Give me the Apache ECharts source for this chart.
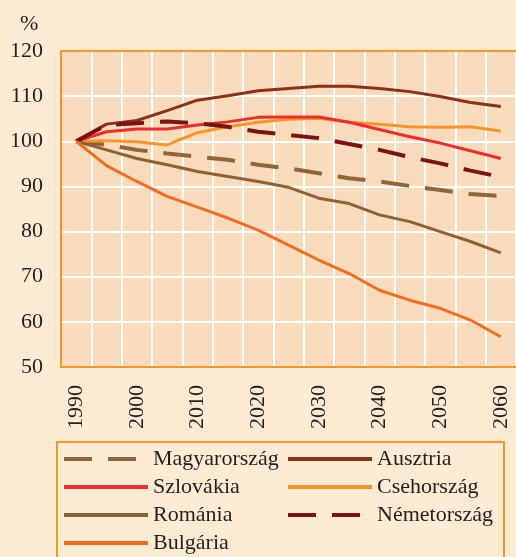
<!DOCTYPE html>
<html>
<head>
<meta charset="utf-8">
<script src="https://cdn.jsdelivr.net/npm/echarts@6/dist/echarts.min.js"></script>
<style>
  html, body { margin: 0; padding: 0; background: #fdebd4; }
  #chart { width: 516px; height: 557px; }
</style>
</head>
<body>
<div id="chart"></div>
<script>
// evek (5 eves lepes)
var years = ['1990','1995','2000','2005','2010','2015','2020','2025','2030','2035','2040','2045','2050','2055','2060'];
var yTicks = [50, 60, 70, 80, 90, 100, 110, 120];

var magyarorszag = [100, 99.2, 98.1, 97.3, 96.6, 95.9, 94.8, 94.0, 92.9, 91.8, 91.1, 90.1, 89.2, 88.3, 87.9];
var ausztria     = [100, 103.8, 104.6, 106.8, 109.1, 110.1, 111.2, 111.7, 112.2, 112.2, 111.7, 111.0, 109.9, 108.6, 107.7];
var szlovakia    = [100, 102.1, 102.7, 102.7, 103.6, 104.3, 105.3, 105.4, 105.4, 104.2, 102.6, 101.0, 99.6, 97.9, 96.2];
var csehorszag   = [100, 100.1, 99.9, 99.2, 101.9, 103.2, 104.2, 104.9, 105.1, 104.2, 103.8, 103.2, 103.1, 103.2, 102.3];
var romania      = [100, 98.1, 96.2, 94.8, 93.3, 92.2, 91.1, 89.8, 87.4, 86.2, 83.7, 82.2, 80.0, 77.8, 75.3];
var nemetorszag  = [100, 103.6, 104.0, 104.4, 104.0, 103.2, 102.1, 101.4, 100.7, 99.4, 98.1, 96.5, 95.1, 93.5, 92.1];
var bulgaria     = [100, 94.6, 91.1, 87.8, 85.4, 83.0, 80.3, 77.0, 73.7, 70.7, 67.0, 64.8, 63.0, 60.4, 56.7];

var serif = 'Times New Roman, Liberation Serif, serif';

function line(name, data, color, dashed) {
  return {
    name: name,
    type: 'line',
    data: data,
    symbol: 'none',
    smooth: false,
    lineStyle: {
      color: color,
      width: dashed ? 4 : 3,
      type: dashed ? [28, 16] : 'solid'
    },
    itemStyle: { color: color }
  };
}

var myChart = echarts.init(document.getElementById('chart'));
var option = {
  backgroundColor: '#fdebd4',
  animation: false,
  grid: {
    left: 61,
    top: 51,
    width: 459,
    height: 316,
    show: true,
    backgroundColor: '#f8dbbb',
    borderWidth: 0
  },
  graphic: [
    { type: 'text', left: 20, top: 13, style: { text: '%', fontFamily: serif, fontSize: 22, fill: '#231f20' } },
    { type: 'rect', z: 100, shape: { x: 61, y: 51, width: 459, height: 316 },
      style: { fill: 'none', stroke: '#f3962e', lineWidth: 2 } },
    { type: 'rect', z: 100, shape: { x: 57, y: 442, width: 447, height: 140 },
      style: { fill: 'none', stroke: '#f3962e', lineWidth: 2 } }
  ],
  legend: {
    left: 62,
    top: 448,
    width: 480,
    padding: 0,
    itemWidth: 84,
    itemHeight: 20,
    itemGap: 6,
    itemStyle: { opacity: 0 },
    lineStyle: { width: 4 },
    textStyle: {
      fontFamily: serif,
      fontSize: 22,
      color: '#231f20',
      width: 127,
      lineHeight: 20
    },
    data: ['Magyarország', 'Ausztria', 'Szlovákia', 'Csehország', 'Románia', 'Németország', 'Bulgária']
  },
  xAxis: {
    type: 'category',
    data: years,
    boundaryGap: true,
    axisLine: { show: false },
    axisTick: { show: false, interval: 0 },
    axisLabel: {
      interval: 1,
      rotate: 90,
      margin: 18,
      fontFamily: serif,
      fontSize: 22,
      color: '#231f20'
    },
    splitLine: { show: true, interval: 0, lineStyle: { color: '#ffffff', width: 2 } }
  },
  yAxis: {
    type: 'value',
    min: yTicks[0],
    max: yTicks[yTicks.length - 1],
    interval: 10,
    axisLine: { show: false },
    axisTick: { show: false },
    axisLabel: {
      margin: 18,
      fontFamily: serif,
      fontSize: 22,
      color: '#231f20'
    },
    splitLine: { show: true, lineStyle: { color: '#ffffff', width: 2 } }
  },
  series: [
    line('Magyarország', magyarorszag, '#93643a', true),
    line('Ausztria', ausztria, '#8c2f1b', false),
    line('Csehország', csehorszag, '#f7952b', false),
    line('Szlovákia', szlovakia, '#ee2c2c', false),
    line('Románia', romania, '#8e6135', false),
    line('Németország', nemetorszag, '#7b1214', true),
    line('Bulgária', bulgaria, '#f36c24', false)
  ]
};
myChart.setOption(option);
</script>
</body>
</html>
